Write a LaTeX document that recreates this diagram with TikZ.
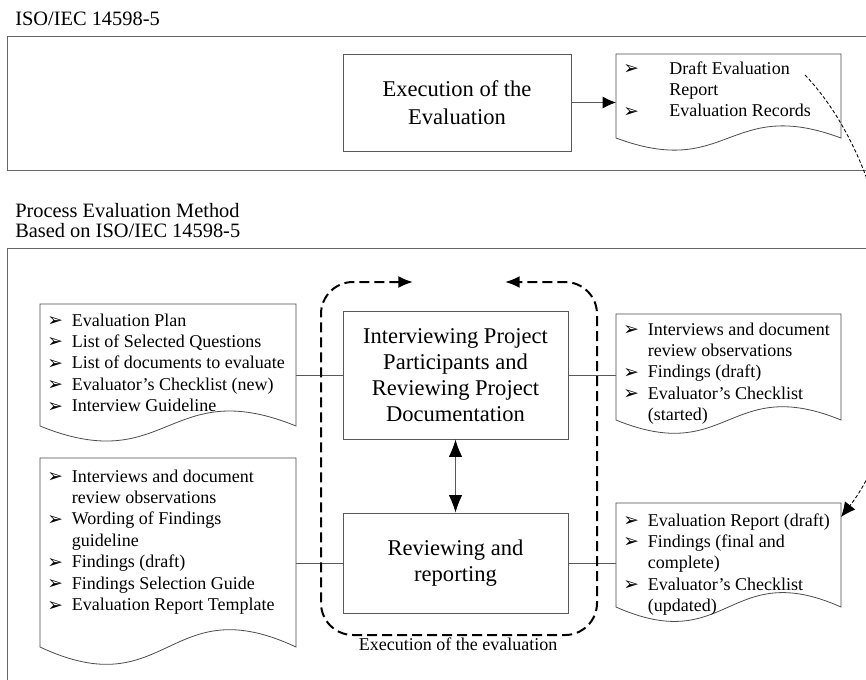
\documentclass[tikz,border=0pt]{standalone}
\usepackage{fontspec}
\setmainfont{Liberation Serif}
\newfontfamily\dejavu{DejaVu Sans}
\usetikzlibrary{arrows.meta,calc}

% list bullets for the document shapes
\newcommand\bulglyph{\raisebox{-0.3pt}{\dejavu\fontsize{14}{14}\selectfont ➢}}
\newcommand\bul{\makebox[18.5pt][l]{\bulglyph}}
\newcommand\cont{\hspace*{18.5pt}}
\newcommand\bulw{\makebox[34.5pt][l]{\bulglyph}}
\newcommand\contw{\hspace*{34.5pt}}

% outline of a document symbol: flat top, wavy bottom
\newcommand\docoutline[2]{%
  \draw[docline] (#1.north west) -- (#1.north east) -- (#1.south east)
    .. controls ($(#1.south)+(0,-#2)$) and ($(#1.south)+(0,#2)$) .. (#1.south west) -- cycle;}

\tikzset{
  title/.style={inner sep=0pt, font=\fontsize{15.3}{15}\selectfont},
  frame/.style={draw=black!60, line width=0.7pt},
  procbox/.style={draw=black!65, line width=0.7pt, align=center, inner sep=0pt,
                  font=\fontsize{16.9}{19.5}\selectfont},
  docarea/.style={draw=none, inner sep=0pt, outer sep=0pt},
  docline/.style={draw=black!70, line width=0.6pt},
  doctext/.style={anchor=base west, inner sep=0pt, font=\fontsize{13.5}{16.1}\selectfont},
  conn/.style={draw=black!65, line width=0.6pt},
  evalloop/.style={line width=1.5pt, dash pattern=on 7.5pt off 3.75pt, rounded corners=24pt,
                   {Latex[length=11pt,width=9pt]}-{Latex[length=11pt,width=9pt]}},
  feedback/.style={line width=0.65pt, dash pattern=on 2.6pt off 1.6pt,
                   -{Latex[length=11pt,width=10pt]}},
}

\begin{document}
\begin{tikzpicture}[x=0.75pt,y=-0.75pt]
\clip (0,0) rectangle (866,679);
\fill[white] (0,0) rectangle (866,679);

% section titles
\node[title, anchor=base west] (t1) at (15,25) {ISO/IEC 14598-5};
\node[title, anchor=base west] (t2) at (15,217)
  {\begin{tabular}[t]{@{}l@{}}Process Evaluation Method\\Based on ISO/IEC 14598-5\end{tabular}};

% section frames (open to the right and bottom)
\draw[frame] (7,36) rectangle (900,170);
\draw[frame] (7,248) rectangle (900,720);

% ---- standard process ----
\node[procbox, minimum width={228*0.75pt}, minimum height={97*0.75pt},
      font=\fontsize{16.9}{21}\selectfont] (exec) at (457,102.5) {Execution of the\\Evaluation};

\node[docarea, minimum width={225*0.75pt}, minimum height={84*0.75pt}] (td) at (728.5,96) {};
\docoutline{td}{42}
\node[doctext] (tdt) at ($(td.north west)+(7,20)$)
  {\begin{tabular}[t]{@{}l@{}}\bulw Draft Evaluation\\\contw Report\\\bulw Evaluation Records\end{tabular}};

\draw[conn, -{Latex[length=10pt,width=9pt,color=black]}] (exec.east) -- (exec.east -| td.west);

% ---- evaluation method ----
\node[procbox, minimum width={225*0.75pt}, minimum height={128*0.75pt}] (interview) at (455.5,375)
  {Interviewing Project\\Participants and\\Reviewing Project\\Documentation};
\node[procbox, minimum width={225*0.75pt}, minimum height={100*0.75pt}] (report) at (455.5,563)
  {Reviewing and\\reporting};

\draw[conn, {Latex[length=13pt,width=10pt,color=black]}-{Latex[length=13pt,width=10pt,color=black]}]
  (interview.south) -- (report.north);

% inputs and outputs
\node[docarea, minimum width={256*0.75pt}, minimum height={122*0.75pt}] (ld1) at (168,365) {};
\docoutline{ld1}{52}
\node[doctext] (ld1t) at ($(ld1.north west)+(7,22)$)
  {\begin{tabular}[t]{@{}l@{}}\bul Evaluation Plan\\\bul List of Selected Questions\\
   \bul List of documents to evaluate\\\bul Evaluator’s Checklist (new)\\\bul Interview Guideline\end{tabular}};

\node[docarea, minimum width={225*0.75pt}, minimum height={106*0.75pt}] (rd1) at (728.5,367) {};
\docoutline{rd1}{46}
\node[doctext] (rd1t) at ($(rd1.north west)+(7,21)$)
  {\begin{tabular}[t]{@{}l@{}}\bul Interviews and document\\\cont review observations\\
   \bul Findings (draft)\\\bul Evaluator’s Checklist\\\cont (started)\end{tabular}};

\node[docarea, minimum width={256*0.75pt}, minimum height={189*0.75pt}] (ld2) at (168,552.5) {};
\docoutline{ld2}{60}
\node[doctext] (ld2t) at ($(ld2.north west)+(7,24)$)
  {\begin{tabular}[t]{@{}l@{}}\bul Interviews and document\\\cont review observations\\
   \bul Wording of Findings\\\cont guideline\\\bul Findings (draft)\\
   \bul Findings Selection Guide\\\bul Evaluation Report Template\end{tabular}};

\node[docarea, minimum width={225*0.75pt}, minimum height={104*0.75pt}] (rd2) at (728.5,555) {};
\docoutline{rd2}{50}
\node[doctext] (rd2t) at ($(rd2.north west)+(7,23)$)
  {\begin{tabular}[t]{@{}l@{}}\bul Evaluation Report (draft)\\\bul Findings (final and\\
   \cont complete)\\\bul Evaluator’s Checklist\\\cont (updated)\end{tabular}};

\draw[conn] (ld1.east |- interview.west) -- (interview.west);
\draw[conn] (interview.east) -- (interview.east -| rd1.west);
\draw[conn] (ld2.east |- report.west) -- (report.west);
\draw[conn] (report.east) -- (report.east -| rd2.west);

% iteration loop around the two activities
\draw[evalloop] (413,282) -- (321,282) -- (321,635) -- (597,635) -- (597,282) -- (505,282);
\node[anchor=base, inner sep=0pt, font=\fontsize{13.5}{16}\selectfont] (looplabel) at (458,650)
  {Execution of the evaluation};

% correspondence between the report outputs
\coordinate (fbstart) at (805,75);
\coordinate (fbend) at ($(rd2.north east)+(0,14)$);
\draw[feedback] (fbstart) .. controls (905,180) and (925,410) .. (fbend);
\end{tikzpicture}
\end{document}
